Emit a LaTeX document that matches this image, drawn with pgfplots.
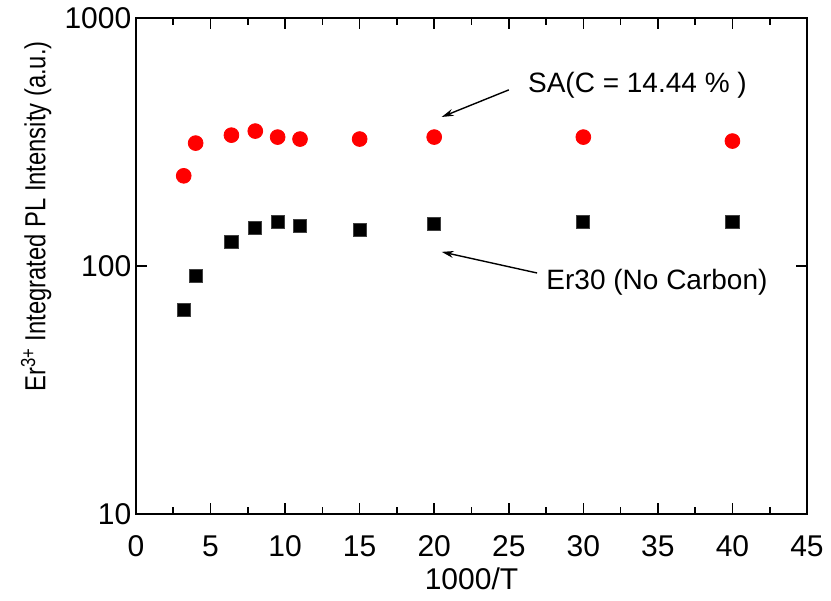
\documentclass[border=0pt]{standalone}
\usepackage{pgfplots}
\pgfplotsset{compat=1.18}
\usepackage{graphicx}
\usepackage{fontspec}
\setmainfont{Liberation Sans}
\usetikzlibrary{arrows.meta}
\begin{document}
\fontsize{14bp}{16bp}\selectfont
\begin{tikzpicture}
\begin{axis}[
  scale only axis,
  width=335.5bp, height=248bp,
  xmin=0, xmax=45,
  ymode=log, ymin=10, ymax=1000,
  xtick={0,5,...,45},
  minor x tick num=1,
  ytick={10,100,1000},
  yticklabels={10,100,1000},
  log basis y=10,
  /pgf/number format/assume math mode=true,
  tick align=inside,
  major tick length=5.3bp,
  minor tick length=3.3bp,
  axis line style={line width=1bp},
  every tick/.style={line width=0.8bp, black},
  tick label style={font=\fontsize{15bp}{17bp}\selectfont},
  xticklabel style={yshift=-6bp},
  yticklabel style={xshift=2.5bp},
  xlabel style={font=\fontsize{15bp}{17bp}\selectfont, yshift=4bp},
  ylabel style={font=\fontsize{14.5bp}{16bp}\selectfont, at={(ticklabel cs:0.6)}, yshift=-3bp},
  xlabel={1000/T},
  ylabel={\scalebox{0.82}[1]{Er\textsuperscript{3+} Integrated PL Intensity (a.u.)}},
  clip=false,
]
\coordinate (ll) at (rel axis cs:0,0);
\addplot[only marks, mark=*, mark size=3.7bp, color=red, mark options={fill=red, draw=red}] coordinates {
(3.2,231) (4.0,313) (6.4,337) (8.0,350) (9.5,331) (11.0,325) (15.0,325) (20.0,331) (30.0,331) (40.0,319)
};
\addplot[only marks, mark=square*, mark size=3.3bp, mark options={fill=black, draw=black!75, line width=0.5bp}] coordinates {
(3.2,66.5) (4.0,91.2) (6.4,125) (8.0,142) (9.5,150) (11.0,145) (15.0,140) (20.0,148) (30.0,150) (40.0,150)
};
\draw[-{Stealth[length=6bp,width=3.5bp]}, line width=0.7bp] (axis cs:25.0,513) -- (axis cs:20.5,399);
\draw[-{Stealth[length=6bp,width=3.5bp]}, line width=0.7bp] (axis cs:26.9,93.7) -- (axis cs:20.5,114);
\node[font=\fontsize{14bp}{16bp}\selectfont, anchor=center] at (axis cs:33.63,535) {SA(C = 14.44 \% )};
\node[font=\fontsize{14bp}{16bp}\selectfont, anchor=center] at (axis cs:34.94,86.1) {Er30 (No Carbon)};
\end{axis}
\pgfresetboundingbox
\path (ll) ++(-68bp,-43.5bp) rectangle ++(415.5bp,300.5bp);
\end{tikzpicture}
\end{document}
